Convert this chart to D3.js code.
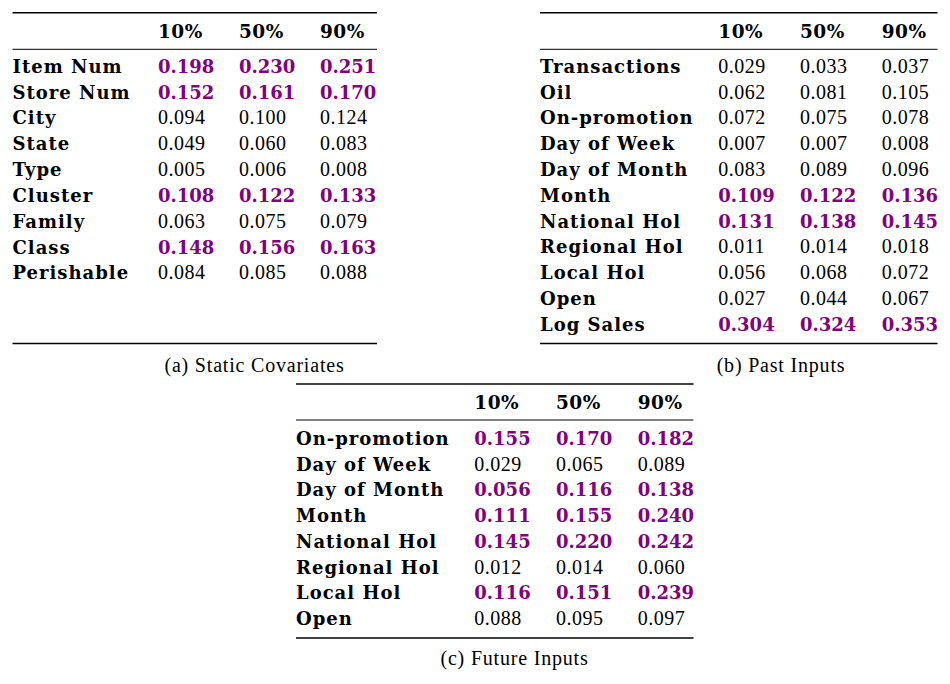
<!DOCTYPE html>
<html>
<head>
<meta charset="utf-8">
<script src="https://cdn.jsdelivr.net/npm/d3@7"></script>
<style>
  body { margin: 0; background: #fff; }
  text { font-family: "Liberation Serif", "Times New Roman", serif; font-size: 20px; fill: #000; }
  text.b { font-family: "DejaVu Serif", serif; font-size: 18px; font-weight: bold; }
  text.lab { letter-spacing: 1px; }
  text.head { font-size: 18.5px; letter-spacing: 0.5px; }
</style>
</head>
<body>
<svg id="chart"></svg>
<script>
var quantiles = ["10%", "50%", "90%"];

// (a) static covariates
var staticLabels = ["Item Num", "Store Num", "City", "State", "Type", "Cluster", "Family", "Class", "Perishable"];
var staticQ10 = [0.198, 0.152, 0.094, 0.049, 0.005, 0.108, 0.063, 0.148, 0.084];
var staticQ50 = [0.230, 0.161, 0.100, 0.060, 0.006, 0.122, 0.075, 0.156, 0.085];
var staticQ90 = [0.251, 0.170, 0.124, 0.083, 0.008, 0.133, 0.079, 0.163, 0.088];
var staticBold = [true, true, false, false, false, true, false, true, false];

// (b) past inputs
var pastLabels = ["Transactions", "Oil", "On-promotion", "Day of Week", "Day of Month", "Month",
    "National Hol", "Regional Hol", "Local Hol", "Open", "Log Sales"];
var pastQ10 = [0.029, 0.062, 0.072, 0.007, 0.083, 0.109, 0.131, 0.011, 0.056, 0.027, 0.304];
var pastQ50 = [0.033, 0.081, 0.075, 0.007, 0.089, 0.122, 0.138, 0.014, 0.068, 0.044, 0.324];
var pastQ90 = [0.037, 0.105, 0.078, 0.008, 0.096, 0.136, 0.145, 0.018, 0.072, 0.067, 0.353];
var pastBold = [false, false, false, false, false, true, true, false, false, false, true];

// (c) future inputs
var futureLabels = ["On-promotion", "Day of Week", "Day of Month", "Month", "National Hol",
    "Regional Hol", "Local Hol", "Open"];
var futureQ10 = [0.155, 0.029, 0.056, 0.111, 0.145, 0.012, 0.116, 0.088];
var futureQ50 = [0.170, 0.065, 0.116, 0.155, 0.220, 0.014, 0.151, 0.095];
var futureQ90 = [0.182, 0.089, 0.138, 0.240, 0.242, 0.060, 0.239, 0.097];
var futureBold = [true, false, true, true, true, false, true, false];

var captions = ["(a) Static Covariates", "(b) Past Inputs", "(c) Future Inputs"];

var width = 950, height = 684;
var purple = "#800080";
var fmt = d3.format(".3f");

var svg = d3.select("#chart")
    .attr("width", width)
    .attr("height", height);

function drawTable(t) {
    var g = svg.append("g");

    // row baselines
    var y = d3.scaleLinear()
        .domain([0, t.labels.length - 1])
        .range([t.firstRow, t.firstRow + (t.labels.length - 1) * t.rowStep]);

    // quantile columns
    var x = d3.scaleOrdinal()
        .domain(quantiles)
        .range(t.cols);

    var columns = [t.q10, t.q50, t.q90];

    // rules (booktabs style)
    g.append("line")
        .attr("x1", t.left).attr("x2", t.right)
        .attr("y1", t.top).attr("y2", t.top)
        .attr("stroke", "#000").attr("stroke-width", 1.6);
    g.append("line")
        .attr("x1", t.left).attr("x2", t.right)
        .attr("y1", t.mid).attr("y2", t.mid)
        .attr("stroke", "#000").attr("stroke-width", 1);
    g.append("line")
        .attr("x1", t.left).attr("x2", t.right)
        .attr("y1", t.bottom).attr("y2", t.bottom)
        .attr("stroke", "#000").attr("stroke-width", 1.5);

    // header
    g.selectAll("text.head")
        .data(quantiles)
        .enter().append("text")
        .attr("class", "head b")
        .attr("x", function(d) { return x(d); })
        .attr("y", t.headY)
        .text(function(d) { return d; });

    // row labels
    g.selectAll("text.lab")
        .data(t.labels)
        .enter().append("text")
        .attr("class", "lab b")
        .attr("x", t.left)
        .attr("y", function(d, i) { return y(i); })
        .text(function(d) { return d; });

    // values
    quantiles.forEach(function(q, c) {
        g.selectAll("text.v" + c)
            .data(columns[c])
            .enter().append("text")
            .attr("class", function(d, i) { return t.bold[i] ? "v" + c + " b" : "v" + c; })
            .attr("x", x(q))
            .attr("y", function(d, i) { return y(i); })
            .style("fill", function(d, i) { return t.bold[i] ? purple : "#000"; })
            .style("letter-spacing", function(d, i) { return t.bold[i] ? "0px" : "0.5px"; })
            .text(function(d) { return fmt(d); });
    });

    // caption
    g.append("text")
        .attr("x", t.capX)
        .attr("y", t.capY)
        .attr("text-anchor", "middle")
        .style("letter-spacing", "0.8px")
        .text(t.caption);
}

drawTable({
    labels: staticLabels, q10: staticQ10, q50: staticQ50, q90: staticQ90, bold: staticBold,
    left: 12.5, right: 377, cols: [158, 239, 320],
    top: 12.7, mid: 49.3, bottom: 343.5, headY: 37.5,
    firstRow: 72.7, rowStep: 25.83,
    caption: captions[0], capX: 254.5, capY: 371.5
});

drawTable({
    labels: pastLabels, q10: pastQ10, q50: pastQ50, q90: pastQ90, bold: pastBold,
    left: 540, right: 937.5, cols: [718.3, 800, 881.7],
    top: 12.7, mid: 49.3, bottom: 343.5, headY: 37.5,
    firstRow: 72.7, rowStep: 25.8,
    caption: captions[1], capX: 781, capY: 371.5
});

drawTable({
    labels: futureLabels, q10: futureQ10, q50: futureQ50, q90: futureQ90, bold: futureBold,
    left: 296, right: 693.5, cols: [474.3, 556, 637.7],
    top: 384, mid: 420, bottom: 638, headY: 408.5,
    firstRow: 445, rowStep: 25.7,
    caption: captions[2], capX: 514.5, capY: 665
});
</script>
</body>
</html>
